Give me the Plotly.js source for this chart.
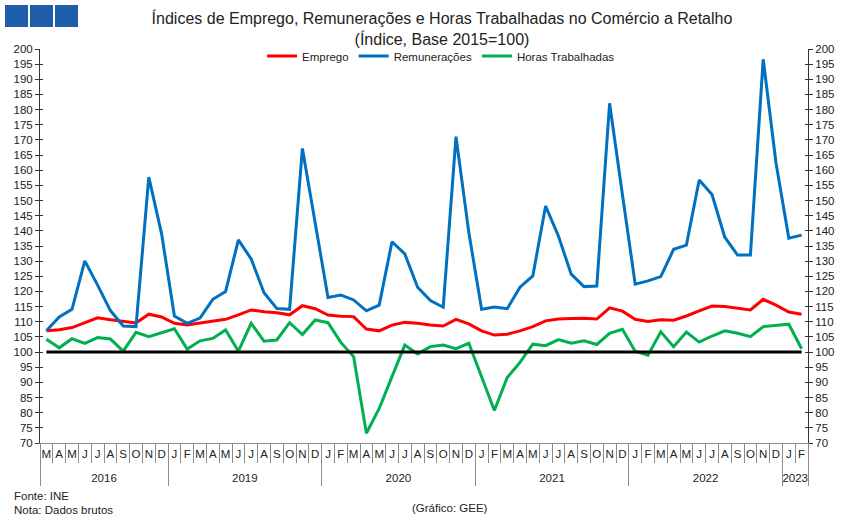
<!DOCTYPE html>
<html><head><meta charset="utf-8">
<script src="https://cdn.plot.ly/plotly-3.0.1.min.js"></script>
<style>html,body{margin:0;padding:0;background:#fff}#chart{width:851px;height:524px}</style>
</head><body><div id="chart"></div>
<script>
// ---- data ----
const yearLabels = ['2016','2019','2020','2021','2022','2023'];
const monthsPerYear = [10,12,12,12,12,2];
const monthLabels = [
  'M','A','M','J','J','A','S','O','N','D',
  'J','F','M','A','M','J','J','A','S','O','N','D',
  'J','F','M','A','M','J','J','A','S','O','N','D',
  'J','F','M','A','M','J','J','A','S','O','N','D',
  'J','F','M','A','M','J','J','A','S','O','N','D',
  'J','F'
];
const emprego = [
  107.0,107.4,108.1,109.7,111.3,110.7,110.1,109.6,112.5,111.6,
  109.5,108.9,109.6,110.1,110.8,112.3,113.9,113.3,113.0,112.3,115.3,114.3,
  112.2,111.8,111.7,107.6,107.0,108.9,109.8,109.5,108.9,108.6,110.8,109.3,
  107.0,105.6,105.9,107.0,108.4,110.3,110.9,111.1,111.2,110.9,114.6,113.5,
  110.8,110.1,110.7,110.5,111.9,113.6,115.2,115.0,114.4,113.9,117.4,115.5,
  113.2,112.5
];
const remuneracoes = [
  107.0,111.6,114.1,130.1,122.1,113.7,108.6,108.4,157.7,139.0,
  111.9,109.5,111.2,117.4,120.0,137.0,130.7,119.6,114.4,114.1,167.2,142.5,
  118.0,118.8,117.2,113.6,115.5,136.4,132.4,121.4,117.0,114.8,171.1,139.5,
  114.1,114.9,114.3,121.4,125.1,148.2,138.3,125.7,121.6,121.8,182.1,152.0,
  122.4,123.5,124.9,133.9,135.3,156.8,152.0,137.9,132.0,132.0,196.6,162.4,
  137.6,138.6
];
const horas = [
  104.2,101.4,104.4,102.9,104.8,104.3,100.3,106.5,105.1,106.4,
  107.7,101.0,103.7,104.5,107.3,100.3,109.5,103.6,104.0,109.7,105.8,110.6,
  109.7,103.2,98.5,73.2,81.4,91.9,102.3,99.4,101.8,102.3,101.1,102.9,
  91.9,80.7,91.6,96.6,102.6,102.1,104.1,102.9,103.7,102.5,106.2,107.5,
  100.3,99.0,106.7,101.8,106.6,103.3,105.3,107.0,106.2,105.1,108.4,108.7,
  109.2,101.1
];
const baseIndex = 100;
const seriesNames = ['Emprego','Remunerações','Horas Trabalhadas'];
const seriesColors = ['#ff0000','#0070c0','#00b050'];

// ---- positions along the month axis ----
const N = monthLabels.length;
const pos = monthLabels.map((_, i) => i);
const monthBounds = pos.map(i => i - 0.5).concat([N - 0.5]);
const yearCenters = [];
const yearBounds = [];
let idx = 0;
monthsPerYear.forEach(n => {
  yearBounds.push(idx - 0.5);
  yearCenters.push(idx + (n - 1) / 2);
  idx += n;
});
yearBounds.push(idx - 0.5);

// pixel helpers for layout decorations
const L = 40, R = 808, T = 49, B = 443;
const px = v => (v - L) / (R - L);
const py = v => (B - v) / (B - T);

// all value axes share the same fixed range, so every series uses the same scale
const traces = [
  {x:[pos[0], pos[N-1]], y:[baseIndex, baseIndex], xaxis:'x2', yaxis:'y2', mode:'lines', line:{color:'#000', width:3}, showlegend:false, hoverinfo:'skip'},
  {x:pos, y:emprego, name:seriesNames[0], mode:'lines', line:{color:seriesColors[0], width:3}},
  {x:pos, y:remuneracoes, name:seriesNames[1], yaxis:'y3', mode:'lines', line:{color:seriesColors[1], width:3}},
  {x:pos, y:horas, name:seriesNames[2], yaxis:'y4', mode:'lines', line:{color:seriesColors[2], width:3}}
];

const yCommon = {range:[70,200], tick0:70, dtick:5, showgrid:false, zeroline:false, tickfont:{size:11.5, color:'#222'}};
const axGrey = '#8c8c8c';

const layout = {
  width:851, height:524,
  margin:{l:L, r:851-R, t:T, b:524-B, pad:0},
  paper_bgcolor:'#fff', plot_bgcolor:'#fff',
  font:{family:'"Liberation Sans", Arial, sans-serif', size:11, color:'#222'},
  title:{text:'Índices de Emprego, Remunerações e Horas Trabalhadas no Comércio a Retalho<br>(Índice, Base 2015=100)',
         font:{size:16, color:'#222'}, x:442/851, xref:'container', xanchor:'center', y:1-24/524, yref:'container', yanchor:'top'},
  showlegend:true,
  legend:{orientation:'h', x:px(441), xanchor:'center', y:py(56), yanchor:'middle', bgcolor:'rgba(0,0,0,0)', font:{size:11.5, color:'#222'}},
  xaxis:{type:'linear', range:[-0.5, N-0.5], tickmode:'array', tickvals:pos, ticktext:monthLabels, tickangle:0,
         ticks:'', showline:true, linecolor:axGrey, linewidth:1, showgrid:false, zeroline:false, tickfont:{size:11.5, color:'#222'},
         minor:{tickmode:'array', tickvals:monthBounds, ticks:'outside', ticklen:19, tickcolor:axGrey, tickwidth:1, showgrid:false}},
  xaxis2:{overlaying:'x', anchor:'y', side:'bottom', type:'linear', range:[-0.5, N-0.5], tickmode:'array',
          tickvals:yearCenters, ticktext:yearLabels, tickangle:0, ticks:'', ticklabelstandoff:26, showline:false, showgrid:false, zeroline:false,
          tickfont:{size:11.5, color:'#222'},
          minor:{tickmode:'array', tickvals:yearBounds, ticks:'outside', ticklen:42, tickcolor:axGrey, tickwidth:1, showgrid:false}},
  yaxis:Object.assign({}, yCommon, {side:'left', ticks:'outside', ticklen:4, tickcolor:'#333', showline:true, linecolor:'#333'}),
  yaxis2:Object.assign({}, yCommon, {overlaying:'y', anchor:'x2', side:'right', ticks:'outside', ticklen:4, tickcolor:'#333', showline:true, linecolor:'#333'}),
  yaxis3:Object.assign({}, yCommon, {overlaying:'y', anchor:'x', side:'left', ticks:'inside', ticklen:3, tickcolor:'#333', showticklabels:false}),
  yaxis4:Object.assign({}, yCommon, {overlaying:'y', anchor:'x', side:'right', ticks:'inside', ticklen:3, tickcolor:'#333', showticklabels:false}),
  shapes:[
    {type:'rect', xref:'paper', yref:'paper', x0:px(5), x1:px(28), y0:py(5), y1:py(27), fillcolor:'#1f5ea8', line:{width:0}},
    {type:'rect', xref:'paper', yref:'paper', x0:px(30), x1:px(53), y0:py(5), y1:py(27), fillcolor:'#1f5ea8', line:{width:0}},
    {type:'rect', xref:'paper', yref:'paper', x0:px(55), x1:px(78), y0:py(5), y1:py(27), fillcolor:'#1f5ea8', line:{width:0}}
  ],
  annotations:[
    {text:'Fonte: INE', xref:'paper', yref:'paper', x:px(12), y:py(496), xanchor:'left', yanchor:'middle', showarrow:false, font:{size:11.5}},
    {text:'Nota: Dados brutos', xref:'paper', yref:'paper', x:px(12), y:py(510), xanchor:'left', yanchor:'middle', showarrow:false, font:{size:11.5}},
    {text:'(Gráfico: GEE)', xref:'paper', yref:'paper', x:px(450), y:py(508), xanchor:'center', yanchor:'middle', showarrow:false, font:{size:11.5}}
  ]
};

Plotly.newPlot('chart', traces, layout, {displayModeBar:false, staticPlot:true});
</script>
</body></html>
